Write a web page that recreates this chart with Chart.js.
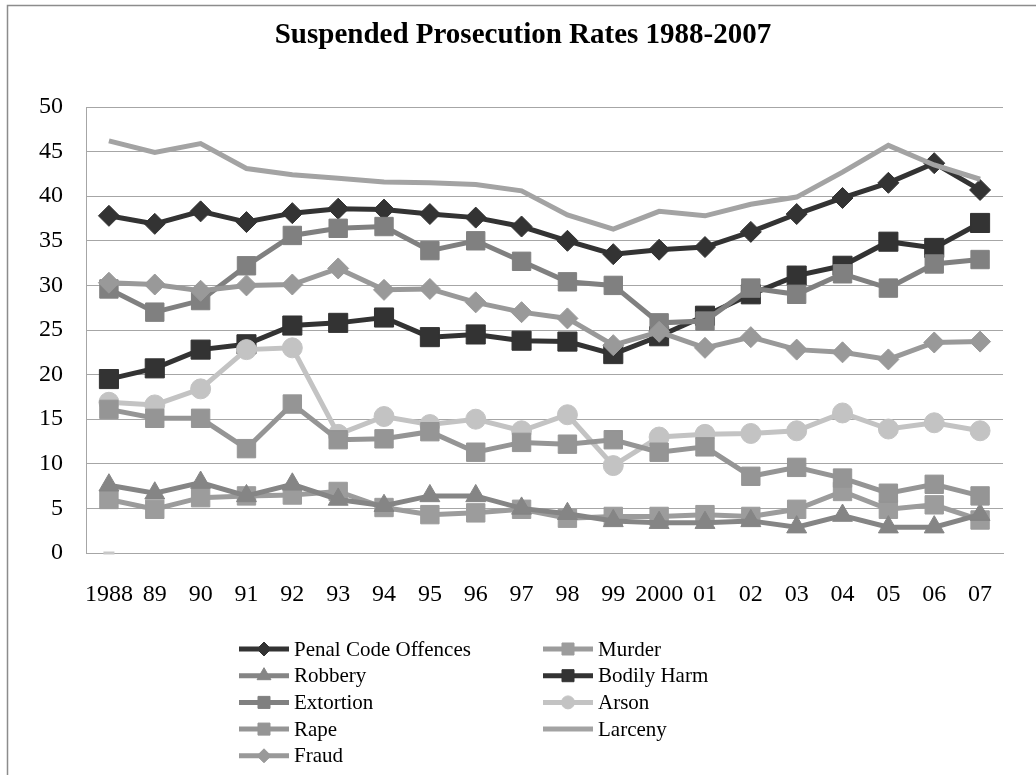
<!DOCTYPE html>
<html>
<head>
<meta charset="utf-8">
<script src="https://cdn.jsdelivr.net/npm/chart.js@4.4.0/dist/chart.umd.min.js"></script>
<style>
    html, body { margin: 0; padding: 0; background: #ffffff; }
    #wrap { width: 1036px; height: 775px; }
</style>
</head>
<body>
<div id="wrap"><canvas id="prosecutionChart" width="1036" height="775"></canvas></div>
<script>
const chartTitle = "Suspended Prosecution Rates 1988-2007";
const years = ["1988", "89", "90", "91", "92", "93", "94", "95", "96", "97", "98", "99", "2000", "01", "02", "03", "04", "05", "06", "07"];
const yTicks = [0, 5, 10, 15, 20, 25, 30, 35, 40, 45, 50];

const penalCode = [37.8, 36.9, 38.3, 37.1, 38.1, 38.6, 38.5, 38.0, 37.6, 36.6, 35.0, 33.5, 34.0, 34.3, 36.0, 38.0, 39.8, 41.5, 43.7, 40.7];
const murder = [6.0, 4.9, 6.2, 6.4, 6.5, 6.9, 5.1, 4.3, 4.5, 4.9, 3.9, 4.1, 4.1, 4.3, 4.1, 4.9, 6.9, 4.9, 5.4, 3.7];
const robbery = [7.6, 6.7, 7.9, 6.4, 7.7, 6.0, 5.3, 6.4, 6.4, 5.0, 4.4, 3.6, 3.4, 3.4, 3.6, 2.9, 4.2, 2.9, 2.9, 4.3];
const bodilyHarm = [19.5, 20.7, 22.8, 23.4, 25.5, 25.8, 26.4, 24.2, 24.5, 23.8, 23.7, 22.3, 24.3, 26.6, 29.0, 31.1, 32.2, 34.9, 34.2, 37.0];
const extortion = [29.6, 27.0, 28.3, 32.2, 35.6, 36.4, 36.6, 33.9, 35.0, 32.7, 30.4, 30.0, 25.8, 26.0, 29.7, 29.0, 31.3, 29.7, 32.4, 32.9];
const arson = [16.9, 16.6, 18.4, 22.8, 23.0, 13.3, 15.3, 14.4, 15.0, 13.7, 15.5, 9.8, 13.0, 13.3, 13.4, 13.7, 15.7, 13.9, 14.6, 13.7];
const rape = [16.1, 15.1, 15.1, 11.7, 16.7, 12.7, 12.8, 13.6, 11.3, 12.4, 12.2, 12.7, 11.3, 11.9, 8.6, 9.6, 8.4, 6.7, 7.7, 6.4];
const larceny = [46.2, 44.9, 45.9, 43.1, 42.4, 42.0, 41.6, 41.5, 41.3, 40.6, 37.9, 36.3, 38.3, 37.8, 39.1, 39.9, 42.7, 45.7, 43.5, 41.9];
const fraud = [30.3, 30.1, 29.4, 30.0, 30.1, 31.9, 29.5, 29.6, 28.1, 27.0, 26.3, 23.3, 24.8, 23.0, 24.2, 22.8, 22.5, 21.7, 23.6, 23.7];
// stray zero marker sitting on the axis at 1988
const zeroMark = [0];

const serif = "'Liberation Serif', 'Times New Roman', serif";
Chart.defaults.font.family = serif;
Chart.defaults.color = "#000000";

function series(label, data, color, style, radius, legendRadius) {
    return {
        label: label,
        data: data,
        borderColor: color,
        backgroundColor: color,
        pointBackgroundColor: color,
        pointBorderColor: color,
        pointBorderWidth: 1,
        borderWidth: 5,
        tension: 0,
        pointStyle: style,
        pointRadius: radius,
        pointHoverRadius: radius,
        legendRadius: legendRadius,
        clip: false
    };
}

const datasets = [
    series("Penal Code Offences", penalCode, "#333333", "rectRot", 10.5, 7),
    series("Murder", murder, "#9c9c9c", "rect", 13, 8.5),
    series("Robbery", robbery, "#858585", "triangle", 11.5, 8),
    series("Bodily Harm", bodilyHarm, "#333333", "rect", 13.5, 8.5),
    series("Extortion", extortion, "#808080", "rect", 13, 8.5),
    series("Arson", arson, "#c3c3c3", "circle", 10, 6.5),
    series("Rape", rape, "#959595", "rect", 13, 8.5),
    series("Larceny", larceny, "#a3a3a3", "circle", 0, 0),
    series("Fraud", fraud, "#999999", "rectRot", 10.5, 7)
];
// later series drawn above earlier ones
datasets.forEach((ds, i) => { ds.order = datasets.length - i; });

const zeroSet = {
    label: "",
    data: zeroMark,
    showLine: false,
    pointStyle: "line",
    pointRadius: 5.5,
    pointBorderWidth: 3,
    pointBorderColor: "#c8c8c8",
    pointBackgroundColor: "#c8c8c8",
    order: 20,
    clip: false,
    hideInLegend: true
};

// outer frame + title centred on the frame (not on the plot)
const framePlugin = {
    id: "frame",
    beforeDraw(chart) {
        const ctx = chart.ctx;
        ctx.save();
        ctx.strokeStyle = "#8c8c8c";
        ctx.lineWidth = 1.5;
        ctx.strokeRect(7.5, 5.5, chart.width + 20, chart.height + 20);
        ctx.fillStyle = "#000000";
        ctx.font = "bold 29px " + serif;
        ctx.textAlign = "center";
        ctx.textBaseline = "middle";
        ctx.fillText(chartTitle, 523, 36);
        ctx.restore();
    }
};

// two-column legend, filled row by row like the original
const legendPlugin = {
    id: "twoColumnLegend",
    afterDraw(chart) {
        const ctx = chart.ctx;
        const colX = [239, 543];
        const firstRow = 649;
        const rowGap = 26.7;
        chart.data.datasets.forEach((ds, i) => {
            if (ds.hideInLegend) return;
            const x = colX[i % 2];
            const y = firstRow + Math.floor(i / 2) * rowGap;
            ctx.save();
            ctx.strokeStyle = ds.borderColor;
            ctx.lineWidth = 5;
            ctx.beginPath();
            ctx.moveTo(x, y);
            ctx.lineTo(x + 50, y);
            ctx.stroke();
            if (ds.legendRadius > 0) {
                ctx.fillStyle = ds.pointBackgroundColor;
                ctx.lineWidth = 1;
                Chart.helpers.drawPoint(ctx, { pointStyle: ds.pointStyle, radius: ds.legendRadius, borderWidth: 1, rotation: 0 }, x + 25, y);
            }
            ctx.fillStyle = "#000000";
            ctx.font = "21px " + serif;
            ctx.textBaseline = "middle";
            ctx.textAlign = "left";
            ctx.fillText(ds.label, x + 55, y + 1);
            ctx.restore();
        });
    }
};

const chart = new Chart(document.getElementById("prosecutionChart").getContext("2d"), {
    type: "line",
    data: {
        labels: years,
        datasets: [...datasets, zeroSet]
    },
    options: {
        responsive: false,
        animation: false,
        layout: {
            padding: { top: 107, left: 0, right: 33, bottom: 162 }
        },
        scales: {
            x: {
                type: "category",
                offset: true,
                grid: { display: false, drawTicks: false },
                border: { display: true, color: "#a6a6a6", width: 1 },
                ticks: {
                    autoSkip: false,
                    maxRotation: 0,
                    padding: 27,
                    font: { size: 24 },
                    color: "#000000"
                },
                afterFit(scale) { scale.height = 60; }
            },
            y: {
                min: yTicks[0],
                max: yTicks[yTicks.length - 1],
                afterBuildTicks(scale) { scale.ticks = yTicks.map(v => ({ value: v })); },
                grid: { color: "#a6a6a6", lineWidth: 1, drawTicks: false },
                border: { display: true, color: "#a6a6a6", width: 1 },
                ticks: {
                    padding: 23,
                    font: { size: 24 },
                    color: "#000000"
                },
                afterFit(scale) { scale.width = 86; }
            }
        },
        plugins: {
            legend: { display: false },
            tooltip: { enabled: false },
            title: { display: false }
        }
    },
    plugins: [framePlugin, legendPlugin]
});
</script>
</body>
</html>
